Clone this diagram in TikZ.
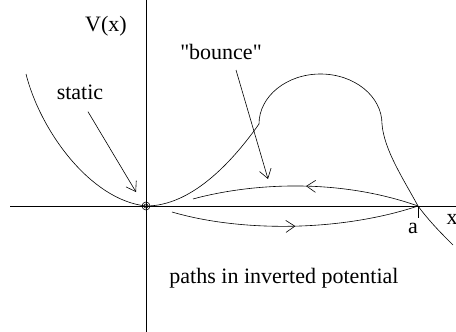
\documentclass[tikz,border=0pt]{standalone}
\usepackage{fontspec}
\setmainfont{Liberation Serif}[Ligatures=TeXOff]
\usetikzlibrary{arrows.meta,decorations.markings}

\begin{document}
\begin{tikzpicture}[
        x=1pt, y=-1pt,
        font=\rmfamily\fontsize{22}{26}\selectfont,
        label/.style={inner sep=0pt, anchor=center},
        pointer/.style={-{Straight Barb[length=9pt,width=12pt]}},
        midarrow/.style={
            postaction={decorate},
            decoration={markings,
                mark=at position #1 with {\arrow{Straight Barb[length=9pt,width=12pt]}}}
        },
        every path/.style={line width=0.6pt}
    ]

    \useasboundingbox (0,0) rectangle (456,332);

    % axes
    \coordinate (origin) at (146,206);
    \coordinate (a) at (418,206);
    \draw (10,206) -- (460,206);
    \draw (146,0) -- (146,332);
    \draw (a) -- ++(0,12);

    % potential
    \draw (26,74) .. controls (40,130) and (90,200) .. (origin)
        .. controls (190,206) and (230,165) .. (259,124)
        arc[start angle=180, end angle=360, x radius=61.5, y radius=50]
        .. controls (384,150) and (404,180) .. (a)
        .. controls (430,222) and (440,232) .. (453,245);

    \draw (origin) circle (4);
    \draw (origin) circle (2);

    % paths
    \draw[midarrow=0.5] (a) .. controls (330,175) and (240,186) .. (193,199);
    \draw[midarrow=0.5] (172,212) .. controls (240,232) and (340,232) .. (a);

    \node[label] (vx) at (106,26) {V(x)};
    \node[label] (static) at (80,92) {static};
    \node[label] (bounce) at (221,52) {"bounce"};
    \node[label] (alabel) at (413,228) {a};
    \node[label] (xlabel) at (452,219) {x};
    \node[label] (caption) at (284,278) {paths in inverted potential};

    \coordinate (staticend) at (136,192);
    \coordinate (bounceend) at (268,179);
    \draw[pointer] (static.south) ++(8,12) -- (staticend);
    \draw[pointer] (bounce.south) ++(15,10) -- (bounceend);

    \end{tikzpicture}
\end{document}
